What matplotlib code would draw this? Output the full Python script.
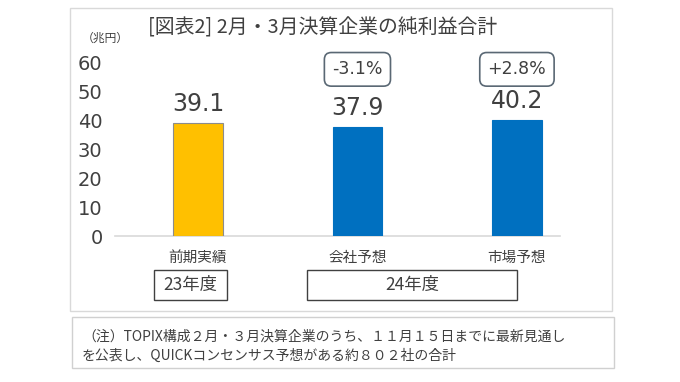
import matplotlib
matplotlib.use("Agg")
import matplotlib.pyplot as plt
from matplotlib.patches import Rectangle

plt.rcParams['font.family'] = ['Noto Sans CJK JP', 'DejaVu Sans']

categories = ["前期実績", "会社予想", "市場予想"]
values = [39.1, 37.9, 40.2]
bar_colors = ["#FFC000", "#0070C0", "#0070C0"]
changes = [None, "-3.1%", "+2.8%"]
yticks = [0, 10, 20, 30, 40, 50, 60]
title = "[図表2] 2月・3月決算企業の純利益合計"
unit = "（兆円）"
year_groups = [("23年度", 154, 227), ("24年度", 307, 517)]
note_lines = ["（注）TOPIX構成２月・３月決算企業のうち、１１月１５日までに最新見通し",
              "を公表し、QUICKコンセンサス予想がある約８０２社の合計"]

W, H = 680, 382
fig = plt.figure(figsize=(W / 100, H / 100), dpi=100)
fig.patch.set_facecolor("white")

def fx(x):
    return x / W

def fy(y):
    return 1 - y / H

TXT = "#404040"

# outer panels
fig.add_artist(Rectangle((fx(70), fy(311)), fx(612) - fx(70), fy(8) - fy(311),
                         transform=fig.transFigure, fill=False, ec="#d9d9d9", lw=1))
fig.add_artist(Rectangle((fx(72), fy(368)), fx(614) - fx(72), fy(317) - fy(368),
                         transform=fig.transFigure, fill=False, ec="#d0d0d0", lw=1))

ax = fig.add_axes([fx(115), fy(236), fx(560) - fx(115), fy(63) - fy(236)])
x = list(range(len(categories)))
edges = ["#8c8c8c" if c == "#FFC000" else c for c in bar_colors]
ax.bar(x, values, width=0.31, color=bar_colors, edgecolor=edges, linewidth=0.8, zorder=3)
ax.set_xlim(-0.52, 2.27)
ax.set_ylim(0, 60)
ax.set_yticks(yticks)
ax.set_yticklabels([str(t) for t in yticks], fontsize=14, color=TXT, family="DejaVu Sans")
ax.set_xticks(x)
ax.set_xticklabels(categories, fontsize=10.5, color=TXT)
ax.tick_params(axis="y", length=0, pad=9)
ax.tick_params(axis="x", length=0, pad=10.5)
for s in ["top", "right", "left"]:
    ax.spines[s].set_visible(False)
ax.spines["bottom"].set_color("#d9d9d9")
ax.spines["bottom"].set_linewidth(1.2)

for i, v in enumerate(values):
    ax.annotate(f"{v:.1f}", (i, v), xytext=(0, 19), textcoords="offset pixels",
                ha="center", va="center", fontsize=17, color=TXT, family="DejaVu Sans")
    if changes[i]:
        ax.annotate(changes[i], (i, 57.8), ha="center", va="center", fontsize=12.5,
                    color=TXT, family="DejaVu Sans",
                    bbox=dict(boxstyle="round,pad=0.45,rounding_size=0.4", fc="white",
                              ec="#5a6874", lw=1.2))

fig.text(fx(148), fy(28), title, fontsize=14.3, color=TXT, ha="left", va="center")
fig.text(fx(82), fy(38), unit, fontsize=8.5, color=TXT, ha="left", va="center")

for label, x0, x1 in year_groups:
    fig.add_artist(Rectangle((fx(x0), fy(300)), fx(x1) - fx(x0), fy(270) - fy(300),
                             transform=fig.transFigure, fill=False, ec="#404040", lw=1))
    fig.text((fx(x0) + fx(x1)) / 2, fy(285), label, fontsize=12.5, color=TXT,
             ha="center", va="center")

fig.text(fx(82), fy(337), note_lines[0], fontsize=10, color=TXT, ha="left", va="center")
fig.text(fx(82), fy(356), note_lines[1], fontsize=10, color=TXT, ha="left", va="center")

fig.savefig("out.png", dpi=100)
